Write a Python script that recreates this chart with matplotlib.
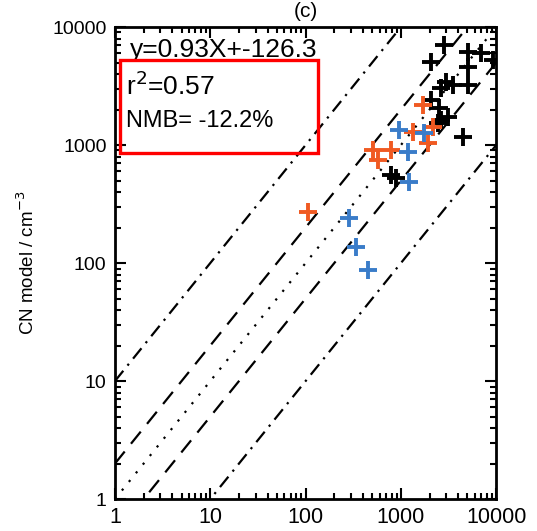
import matplotlib
matplotlib.use("Agg")
import matplotlib.pyplot as plt
import numpy as np
from matplotlib.patches import Rectangle

plt.rcParams['font.family'] = ['Liberation Sans', 'DejaVu Sans']

black_obs = [2830, 2070, 5070, 6950, 5070, 2960, 3530, 2660, 5070, 2070, 2510,
             2660, 2450, 3140, 4480, 785, 885, 9300]
black_mod = [7030, 5060, 6150, 6020, 4570, 3410, 3230, 3030, 3230, 2410, 2050,
             1630, 1540, 1730, 1170, 557, 525, 5300]
orange_obs = [1700, 1340, 2170, 1910, 507, 570, 785, 107]
orange_mod = [2180, 1290, 1410, 1040, 910, 750, 910, 270]
blue_obs = [955, 1750, 1180, 1210, 285, 335, 450]
blue_mod = [1340, 1260, 870, 490, 240, 137, 87]

ratios = [10, 2, 1, 0.5, 0.1]
ratio_styles = [(0, (6, 3, 1, 3)), (0, (7, 4.5)), (0, (1, 4)), (0, (7, 4.5)), (0, (6, 3, 1, 3))]

ticks = [1, 10, 100, 1000, 10000]
tick_labels = ['1', '10', '100', '1000', '10000']

fig = plt.figure(figsize=(5.37, 5.31), dpi=100)
ax = fig.add_axes([0.214, 0.060, 0.710, 0.889])

xs = np.array([1, 10000])
for r, ls in zip(ratios, ratio_styles):
    ax.plot(xs, xs * r, color='black', lw=1.6, linestyle=ls)

mk = dict(marker='+', linestyle='none', markersize=13, markeredgewidth=2.8)
ax.plot(black_obs, black_mod, color='black', **mk)
ax.plot(orange_obs, orange_mod, color='#f05a22', **mk)
ax.plot(blue_obs, blue_mod, color='#3a7cc9', **mk)

ax.set_xscale('log')
ax.set_yscale('log')
ax.set_xlim(1, 10000)
ax.set_ylim(1, 10000)
ax.set_xticks(ticks)
ax.set_xticklabels(tick_labels, fontsize=15.5)
ax.set_yticks(ticks)
ax.set_yticklabels(tick_labels, fontsize=14)
ax.tick_params(which='both', direction='in', top=True, right=True, width=1.5)
ax.tick_params(which='major', length=8, pad=6)
ax.tick_params(which='minor', length=4.5)
for s in ax.spines.values():
    s.set_linewidth(2)

ax.set_ylabel('CN model / cm$^{-3}$', fontsize=13.5, labelpad=10)
fig.text(0.57, 0.997, '(c)', fontsize=15, ha='center', va='top')

ax.text(0.04, 0.952, 'y=0.93X+-126.3', transform=ax.transAxes, fontsize=19,
        va='center', ha='left')
ax.text(0.03, 0.876, 'r$^2$=0.57', transform=ax.transAxes, fontsize=19,
        va='center', ha='left')
ax.text(0.03, 0.80, 'NMB= -12.2%', transform=ax.transAxes, fontsize=17,
        va='center', ha='left')

fig.patches.append(Rectangle((120 / 537, 1 - 153 / 531), 198 / 537, 93 / 531,
                             transform=fig.transFigure, fill=False,
                             edgecolor='red', lw=2.4, zorder=10))

fig.savefig('out.png', dpi=100)
